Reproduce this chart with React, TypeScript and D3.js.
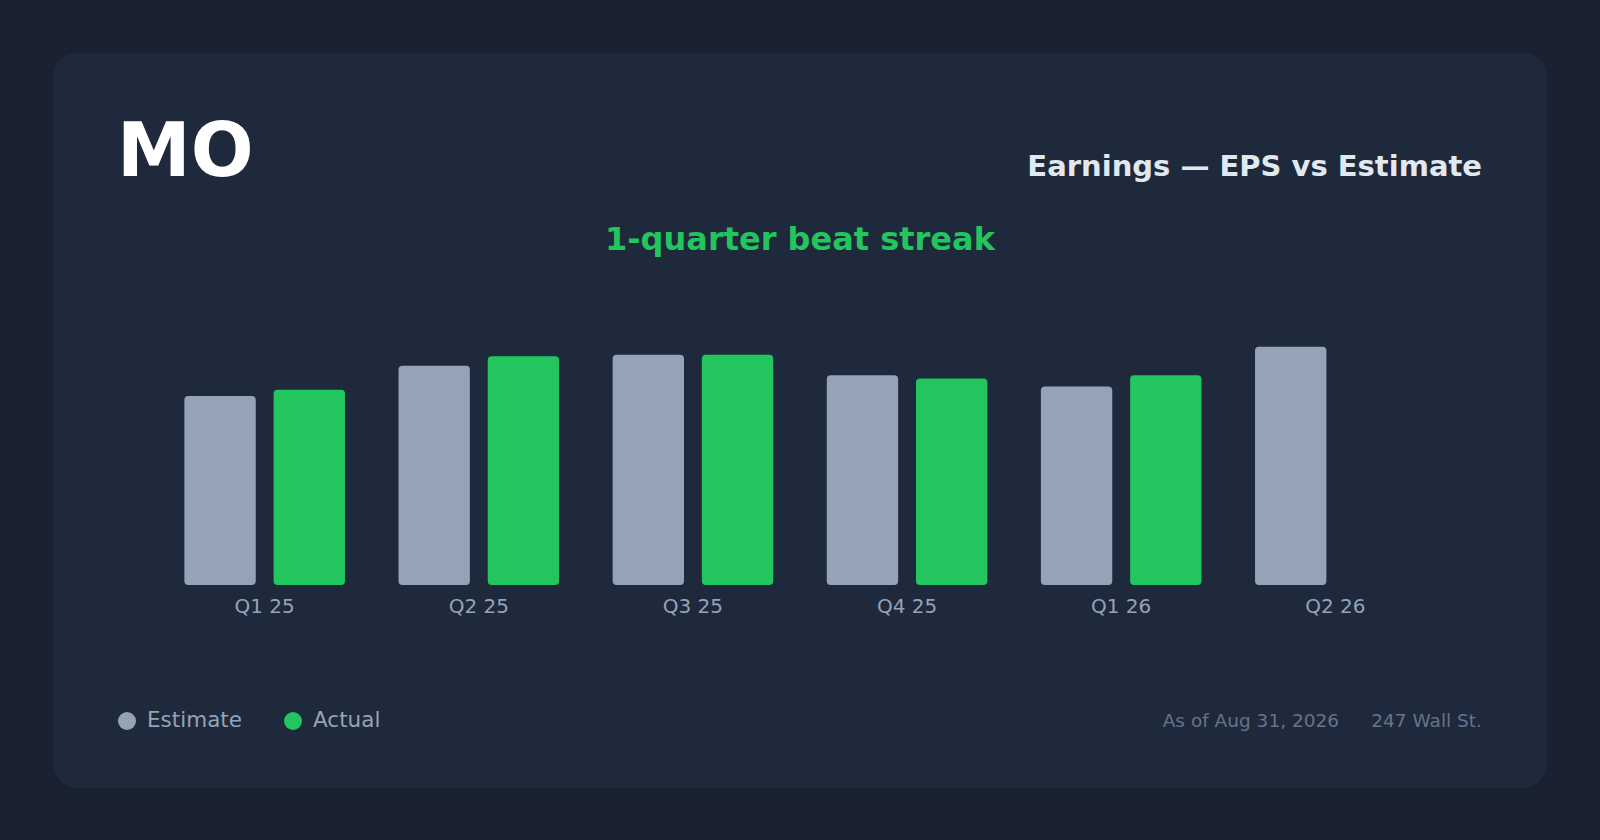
import { useEffect } from "react"
import * as d3 from "d3"

// quarterly EPS, MO
const quarters = ["Q1 25", "Q2 25", "Q3 25", "Q4 25", "Q1 26", "Q2 26"]
const estimateEps = [1.19, 1.38, 1.45, 1.32, 1.25, 1.5]
const actualEps: Array<number | null> = [1.23, 1.44, 1.45, 1.3, 1.32, null]

const ticker = "MO"
const title = "Earnings — EPS vs Estimate"
const subtitle = "1-quarter beat streak"
const asOf = "As of Aug 31, 2026"
const source = "247 Wall St."

const WIDTH = 1600
const HEIGHT = 840
const FONT = "'DejaVu Sans', Verdana, sans-serif"
const EST_COLOR = "#94a3b8"
const ACT_COLOR = "#22c55e"

export default function App() {
  useEffect(() => {
    document.body.style.margin = "0"
    document.body.style.background = "#1a2231"
  }, [])

  const x = d3.scaleBand<string>().domain(quarters).range([118, 1482]).paddingInner(0.25).paddingOuter(0.31)
  const sub = d3.scaleBand<string>().domain(["estimate", "actual"]).range([0, x.bandwidth()]).paddingInner(0.2)
  const y = d3.scaleLinear().domain([0, 1.725]).range([585, 311])

  const rows = quarters.map((q, i) => ({ q, est: estimateEps[i], act: actualEps[i] }))

  return (
    <svg width={WIDTH} height={HEIGHT} style={{ display: "block" }} fontFamily={FONT}>
      <rect x={0} y={0} width={WIDTH} height={HEIGHT} fill="#1a2231" />
      <rect x={53} y={53} width={1494} height={735} rx={24} fill="#1e293b" />

      <text x={117} y={176} fontSize={74} fontWeight={700} fill="#ffffff">
        {ticker}
      </text>
      <text x={1482} y={176} fontSize={29} fontWeight={700} fill="#e2e8f0" textAnchor="end">
        {title}
      </text>
      <text x={800} y={250} fontSize={32} fontWeight={700} fill={ACT_COLOR} textAnchor="middle">
        {subtitle}
      </text>

      {rows.map((d) => {
        const x0 = x(d.q) ?? 0
        return (
          <g key={d.q}>
            <rect
              x={x0 + (sub("estimate") ?? 0)}
              y={y(d.est)}
              width={sub.bandwidth()}
              height={y(0) - y(d.est)}
              rx={4}
              fill={EST_COLOR}
            />
            {d.act != null && (
              <rect
                x={x0 + (sub("actual") ?? 0)}
                y={y(d.act)}
                width={sub.bandwidth()}
                height={y(0) - y(d.act)}
                rx={4}
                fill={ACT_COLOR}
              />
            )}
            <text x={x0 + x.bandwidth() / 2} y={y(0) + 28} fontSize={20} fill={EST_COLOR} textAnchor="middle">
              {d.q}
            </text>
          </g>
        )
      })}

      {/* legend */}
      <circle cx={127} cy={721} r={9} fill={EST_COLOR} />
      <text x={147} y={727} fontSize={21.5} fill={EST_COLOR}>
        Estimate
      </text>
      <circle cx={293} cy={721} r={9} fill={ACT_COLOR} />
      <text x={313} y={727} fontSize={21.5} fill={EST_COLOR}>
        Actual
      </text>

      <text x={1339} y={727} fontSize={18.5} fill="#64748b" textAnchor="end">
        {asOf}
      </text>
      <text x={1482} y={727} fontSize={18.5} fill="#64748b" textAnchor="end">
        {source}
      </text>
    </svg>
  )
}
